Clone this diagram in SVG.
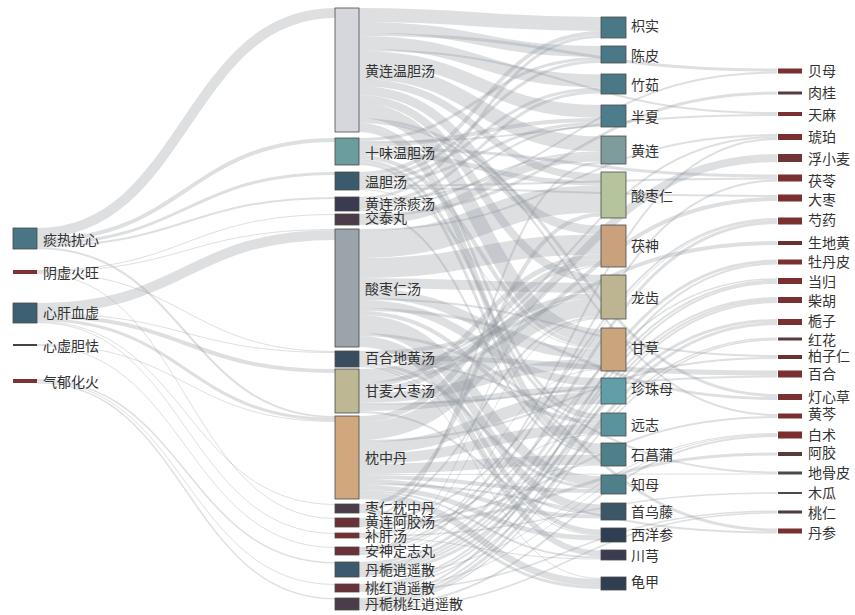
<svg xmlns="http://www.w3.org/2000/svg" width="855" height="615" viewBox="0 0 855 615">
<style>
.l{fill:none;stroke:#8e949c;stroke-opacity:.3}
.n{stroke:#4a4a4a;stroke-width:.8}
.b{stroke:none}
text{font-family:"Noto Sans CJK SC","Noto Sans",sans-serif;font-size:14px;fill:#333;dominant-baseline:central}
</style>
<rect width="855" height="615" fill="#fff"/>
<g id="links">
<path class="l" stroke-width="10" d="M37,233C186,233 186,13 335,13"/>
<path class="l" stroke-width="4" d="M37,240C186,240 186,140 335,140"/>
<path class="l" stroke-width="3" d="M37,243.5C186,243.5 186,173.5 335,173.5"/>
<path class="l" stroke-width="2" d="M37,246C186,246 186,198 335,198"/>
<path class="l" stroke-width="2" d="M37,248C186,248 186,417 335,417"/>
<path class="l" stroke-width="1" d="M37,270.5C186,270.5 186,214.5 335,214.5"/>
<path class="l" stroke-width="1" d="M37,271.5C186,271.5 186,229.5 335,229.5"/>
<path class="l" stroke-width="1" d="M37,272.5C186,272.5 186,351.5 335,351.5"/>
<path class="l" stroke-width="1" d="M37,273.5C186,273.5 186,518.5 335,518.5"/>
<path class="l" stroke-width="10" d="M37,308C186,308 186,235 335,235"/>
<path class="l" stroke-width="1" d="M37,313.5C186,313.5 186,352.5 335,352.5"/>
<path class="l" stroke-width="4" d="M37,316C186,316 186,371 335,371"/>
<path class="l" stroke-width="3" d="M37,319.5C186,319.5 186,419.5 335,419.5"/>
<path class="l" stroke-width="1" d="M37,321.5C186,321.5 186,504.5 335,504.5"/>
<path class="l" stroke-width="1" d="M37,322.5C186,322.5 186,533.5 335,533.5"/>
<path class="l" stroke-width="1" d="M37,344.5C186,344.5 186,421.5 335,421.5"/>
<path class="l" stroke-width="1" d="M37,345.5C186,345.5 186,547.5 335,547.5"/>
<path class="l" stroke-width="1.5" d="M37,379.75C186,379.75 186,562.75 335,562.75"/>
<path class="l" stroke-width="1" d="M37,381C186,381 186,584.5 335,584.5"/>
<path class="l" stroke-width="1.5" d="M37,382.75C186,382.75 186,598.75 335,598.75"/>

<path class="l" stroke-width="14" d="M359,15C480,15 480,24 601,24"/>
<path class="l" stroke-width="11" d="M359,27.5C480,27.5 480,51.5 601,51.5"/>
<path class="l" stroke-width="13" d="M359,42.5C480,42.5 480,81 601,81"/>
<path class="l" stroke-width="13" d="M359,57.5C480,57.5 480,111.5 601,111.5"/>
<path class="l" stroke-width="15" d="M359,71.5C480,71.5 480,144 601,144"/>
<path class="l" stroke-width="7" d="M359,82.5C480,82.5 480,177 601,177"/>
<path class="l" stroke-width="9" d="M359,90.5C480,90.5 480,230 601,230"/>
<path class="l" stroke-width="8" d="M359,99C480,99 480,279 601,279"/>
<path class="l" stroke-width="15" d="M359,110.5C480,110.5 480,336.5 601,336.5"/>
<path class="l" stroke-width="3" d="M359,124.5C480,124.5 480,415.5 601,415.5"/>
<path class="l" stroke-width="6" d="M359,129C480,129 480,446.5 601,446.5"/>
<path class="l" stroke-width="3" d="M359,34.5C568,34.5 568,70 777,70"/>
<path class="l" stroke-width="2" d="M359,50C568,50 568,113 777,113"/>
<path class="l" stroke-width="3" d="M359,119.5C568,119.5 568,395.5 777,395.5"/>
<path class="l" stroke-width="2" d="M359,122C568,122 568,415 777,415"/>

<path class="l" stroke-width="3" d="M359,139.5C480,139.5 480,58.5 601,58.5"/>
<path class="l" stroke-width="4" d="M359,145C480,145 480,120 601,120"/>
<path class="l" stroke-width="5" d="M359,152.5C480,152.5 480,183 601,183"/>
<path class="l" stroke-width="4" d="M359,157C480,157 480,346 601,346"/>
<path class="l" stroke-width="3" d="M359,160.5C480,160.5 480,418.5 601,418.5"/>
<path class="l" stroke-width="3" d="M359,163.5C480,163.5 480,451 601,451"/>
<path class="l" stroke-width="2" d="M359,142C568,142 568,115 777,115"/>
<path class="l" stroke-width="3" d="M359,148.5C568,148.5 568,176 777,176"/>

<path class="l" stroke-width="4" d="M359,174C480,174 480,33 601,33"/>
<path class="l" stroke-width="3" d="M359,177.5C480,177.5 480,61.5 601,61.5"/>
<path class="l" stroke-width="3" d="M359,180.5C480,180.5 480,89 601,89"/>
<path class="l" stroke-width="3" d="M359,183.5C480,183.5 480,123.5 601,123.5"/>
<path class="l" stroke-width="1" d="M359,189.5C480,189.5 480,348.5 601,348.5"/>
<path class="l" stroke-width="2" d="M359,186C568,186 568,178.5 777,178.5"/>
<path class="l" stroke-width="2" d="M359,188C568,188 568,196 777,196"/>

<path class="l" stroke-width="3" d="M359,198.5C480,198.5 480,36.5 601,36.5"/>
<path class="l" stroke-width="3" d="M359,203.5C480,203.5 480,92 601,92"/>
<path class="l" stroke-width="2" d="M359,206C480,206 480,126 601,126"/>
<path class="l" stroke-width="2" d="M359,208C480,208 480,152.5 601,152.5"/>
<path class="l" stroke-width="2" d="M359,210C480,210 480,453.5 601,453.5"/>
<path class="l" stroke-width="2" d="M359,201C568,201 568,72.5 777,72.5"/>

<path class="l" stroke-width="8" d="M359,221C480,221 480,157.5 601,157.5"/>
<path class="l" stroke-width="3" d="M359,215.5C568,215.5 568,93 777,93"/>

<path class="l" stroke-width="27" d="M359,244.5C480,244.5 480,199 601,199"/>
<path class="l" stroke-width="20" d="M359,268C480,268 480,244.5 601,244.5"/>
<path class="l" stroke-width="10" d="M359,283C480,283 480,288 601,288"/>
<path class="l" stroke-width="10" d="M359,293C480,293 480,354 601,354"/>
<path class="l" stroke-width="8" d="M359,304C480,304 480,382 601,382"/>
<path class="l" stroke-width="4" d="M359,313C480,313 480,422 601,422"/>
<path class="l" stroke-width="10" d="M359,320C480,320 480,481 601,481"/>
<path class="l" stroke-width="8" d="M359,329C480,329 480,508.5 601,508.5"/>
<path class="l" stroke-width="5" d="M359,338.5C480,338.5 480,532 601,532"/>
<path class="l" stroke-width="6" d="M359,344C480,344 480,553.5 601,553.5"/>
<path class="l" stroke-width="2" d="M359,230C568,230 568,135 777,135"/>
<path class="l" stroke-width="2" d="M359,299C568,299 568,356 777,356"/>
<path class="l" stroke-width="3" d="M359,309.5C568,309.5 568,398.5 777,398.5"/>
<path class="l" stroke-width="3" d="M359,334.5C568,334.5 568,530 777,530"/>

<path class="l" stroke-width="3" d="M359,363.5C480,363.5 480,487.5 601,487.5"/>
<path class="l" stroke-width="1" d="M359,365.5C480,365.5 480,535 601,535"/>
<path class="l" stroke-width="1" d="M359,366.5C480,366.5 480,578.5 601,578.5"/>
<path class="l" stroke-width="4" d="M359,353C568,353 568,243 777,243"/>
<path class="l" stroke-width="5" d="M359,357.5C568,357.5 568,373 777,373"/>
<path class="l" stroke-width="2" d="M359,361C568,361 568,472.5 777,472.5"/>

<path class="l" stroke-width="5" d="M359,385.5C480,385.5 480,257 601,257"/>
<path class="l" stroke-width="5" d="M359,390.5C480,390.5 480,295.5 601,295.5"/>
<path class="l" stroke-width="10" d="M359,398C480,398 480,364 601,364"/>
<path class="l" stroke-width="6" d="M359,408C480,408 480,389 601,389"/>
<path class="l" stroke-width="2" d="M359,412C480,412 480,513.5 601,513.5"/>
<path class="l" stroke-width="2" d="M359,370C568,370 568,137 777,137"/>
<path class="l" stroke-width="8" d="M359,375C568,375 568,158 777,158"/>
<path class="l" stroke-width="4" d="M359,381C568,381 568,199 777,199"/>
<path class="l" stroke-width="2" d="M359,404C568,404 568,376.5 777,376.5"/>

<path class="l" stroke-width="6" d="M359,419C480,419 480,262.5 601,262.5"/>
<path class="l" stroke-width="18" d="M359,431C480,431 480,307 601,307"/>
<path class="l" stroke-width="12" d="M359,448C480,448 480,398 601,398"/>
<path class="l" stroke-width="10" d="M359,459C480,459 480,429 601,429"/>
<path class="l" stroke-width="10" d="M359,469C480,469 480,459.5 601,459.5"/>
<path class="l" stroke-width="4" d="M359,477C480,477 480,491 601,491"/>
<path class="l" stroke-width="4" d="M359,481C480,481 480,516.5 601,516.5"/>
<path class="l" stroke-width="5" d="M359,487.5C480,487.5 480,538 601,538"/>
<path class="l" stroke-width="2" d="M359,491C480,491 480,557.5 601,557.5"/>
<path class="l" stroke-width="7" d="M359,495.5C480,495.5 480,582.5 601,582.5"/>
<path class="l" stroke-width="2" d="M359,441C568,441 568,358 777,358"/>
<path class="l" stroke-width="1" d="M359,474.5C568,474.5 568,474 777,474"/>
<path class="l" stroke-width="2" d="M359,484C568,484 568,532.5 777,532.5"/>

<path class="l" stroke-width="4" d="M359,506C480,506 480,214.5 601,214.5"/>
<path class="l" stroke-width="2" d="M359,509C480,509 480,317 601,317"/>
<path class="l" stroke-width="3" d="M359,511.5C480,511.5 480,587.5 601,587.5"/>

<path class="l" stroke-width="2" d="M359,519C480,519 480,162.5 601,162.5"/>
<path class="l" stroke-width="2" d="M359,521C568,521 568,219 777,219"/>
<path class="l" stroke-width="2" d="M359,523C568,523 568,417 777,417"/>
<path class="l" stroke-width="3" d="M359,525.5C568,525.5 568,454 777,454"/>

<path class="l" stroke-width="1" d="M359,537.5C480,537.5 480,559 601,559"/>
<path class="l" stroke-width="1" d="M359,533.5C568,533.5 568,220.5 777,220.5"/>
<path class="l" stroke-width="1.5" d="M359,534.75C568,534.75 568,279 777,279"/>
<path class="l" stroke-width="1.5" d="M359,536.25C568,536.25 568,493 777,493"/>

<path class="l" stroke-width="1" d="M359,551.5C480,551.5 480,266 601,266"/>
<path class="l" stroke-width="1" d="M359,552.5C480,552.5 480,318.5 601,318.5"/>
<path class="l" stroke-width="1" d="M359,553.5C480,553.5 480,434.5 601,434.5"/>
<path class="l" stroke-width="1" d="M359,554.5C480,554.5 480,465 601,465"/>
<path class="l" stroke-width="2" d="M359,548C568,548 568,139 777,139"/>
<path class="l" stroke-width="2" d="M359,550C568,550 568,180.5 777,180.5"/>

<path class="l" stroke-width="1" d="M359,575.5C480,575.5 480,369.5 601,369.5"/>
<path class="l" stroke-width="3" d="M359,563.5C568,563.5 568,222.5 777,222.5"/>
<path class="l" stroke-width="3" d="M359,566.5C568,566.5 568,261 777,261"/>
<path class="l" stroke-width="2" d="M359,569C568,569 568,280.75 777,280.75"/>
<path class="l" stroke-width="2" d="M359,571C568,571 568,298 777,298"/>
<path class="l" stroke-width="3" d="M359,573.5C568,573.5 568,320.5 777,320.5"/>
<path class="l" stroke-width="1" d="M359,576.5C568,576.5 568,433.5 777,433.5"/>

<path class="l" stroke-width="2" d="M359,585C568,585 568,282.75 777,282.75"/>
<path class="l" stroke-width="2" d="M359,587C568,587 568,300 777,300"/>
<path class="l" stroke-width="1.5" d="M359,588.75C568,588.75 568,338.25 777,338.25"/>
<path class="l" stroke-width="1" d="M359,590C568,590 568,434.5 777,434.5"/>
<path class="l" stroke-width="1.5" d="M359,591.25C568,591.25 568,511.25 777,511.25"/>

<path class="l" stroke-width="2" d="M359,599C568,599 568,263.5 777,263.5"/>
<path class="l" stroke-width="2" d="M359,601C568,601 568,302 777,302"/>
<path class="l" stroke-width="3" d="M359,603.5C568,603.5 568,323.5 777,323.5"/>
<path class="l" stroke-width="1.5" d="M359,605.75C568,605.75 568,339.75 777,339.75"/>
<path class="l" stroke-width="2" d="M359,607.5C568,607.5 568,436 777,436"/>
<path class="l" stroke-width="1.5" d="M359,609.25C568,609.25 568,512.75 777,512.75"/>
</g>

<g id="n-tanre"><rect class="n" x="13" y="228" width="24" height="21" fill="#4a7585"/><text x="43" y="239">痰热扰心</text></g>
<g id="n-yinxu"><rect class="b" x="13" y="270" width="24" height="4" fill="#7a3232"/><text x="43" y="272">阴虚火旺</text></g>
<g id="n-xingan"><rect class="n" x="13" y="303" width="24" height="20" fill="#3d6072"/><text x="43" y="312">心肝血虚</text></g>
<g id="n-xinxu"><rect class="b" x="13" y="344" width="24" height="2" fill="#444"/><text x="43" y="345">心虚胆怯</text></g>
<g id="n-qiyu"><rect class="b" x="13" y="379" width="24" height="4" fill="#7a3232"/><text x="43" y="381">气郁化火</text></g>

<g id="f1"><rect class="n" x="335" y="8" width="24" height="124" fill="#d5d7dd"/><text x="365" y="70">黄连温胆汤</text></g>
<g id="f2"><rect class="n" x="335" y="138" width="24" height="27" fill="#6b9c9e"/><text x="365" y="152">十味温胆汤</text></g>
<g id="f3"><rect class="n" x="335" y="172" width="24" height="18" fill="#3b5a6b"/><text x="365" y="181">温胆汤</text></g>
<g id="f4"><rect class="n" x="335" y="197" width="24" height="14" fill="#3a3b50"/><text x="365" y="203">黄连涤痰汤</text></g>
<g id="f5"><rect class="n" x="335" y="214" width="24" height="11" fill="#4a3c48"/><text x="365" y="217">交泰丸</text></g>
<g id="f6"><rect class="n" x="335" y="229" width="24" height="118" fill="#9ba3ab"/><text x="365" y="288">酸枣仁汤</text></g>
<g id="f7"><rect class="n" x="335" y="351" width="24" height="16" fill="#3a4d5e"/><text x="365" y="357">百合地黄汤</text></g>
<g id="f8"><rect class="n" x="335" y="369" width="24" height="44" fill="#bdb793"/><text x="365" y="390">甘麦大枣汤</text></g>
<g id="f9"><rect class="n" x="335" y="416" width="24" height="83" fill="#d1a77e"/><text x="365" y="457">枕中丹</text></g>
<g id="f10"><rect class="n" x="335" y="504" width="24" height="9" fill="#4a3c48"/><text x="365" y="507">枣仁枕中丹</text></g>
<g id="f11"><rect class="n" x="335" y="518" width="24" height="9" fill="#6b3038"/><text x="365" y="521">黄连阿胶汤</text></g>
<g id="f12"><rect class="n" x="335" y="533" width="24" height="5" fill="#7a2e2e"/><text x="365" y="535">补肝汤</text></g>
<g id="f13"><rect class="n" x="335" y="547" width="24" height="8" fill="#6b3038"/><text x="365" y="550">安神定志丸</text></g>
<g id="f14"><rect class="n" x="335" y="562" width="24" height="15" fill="#3b5a6b"/><text x="365" y="569">丹栀逍遥散</text></g>
<g id="f15"><rect class="n" x="335" y="584" width="24" height="8" fill="#6b3038"/><text x="365" y="587">桃红逍遥散</text></g>
<g id="f16"><rect class="n" x="335" y="598" width="24" height="12" fill="#4a3c48"/><text x="365" y="603">丹栀桃红逍遥散</text></g>

<g id="h1"><rect class="n" x="601" y="17" width="25" height="21" fill="#4b7886"/><text x="631" y="25">枳实</text></g>
<g id="h2"><rect class="n" x="601" y="46" width="25" height="17" fill="#4b7886"/><text x="631" y="55">陈皮</text></g>
<g id="h3"><rect class="n" x="601" y="74" width="25" height="20" fill="#4b7886"/><text x="631" y="84">竹茹</text></g>
<g id="h4"><rect class="n" x="601" y="105" width="25" height="22" fill="#4d7d8a"/><text x="631" y="116">半夏</text></g>
<g id="h5"><rect class="n" x="601" y="136" width="25" height="28" fill="#7f9c9c"/><text x="631" y="150">黄连</text></g>
<g id="h6"><rect class="n" x="601" y="172" width="25" height="46" fill="#b6c49e"/><text x="631" y="195">酸枣仁</text></g>
<g id="h7"><rect class="n" x="601" y="225" width="25" height="42" fill="#c9a17c"/><text x="631" y="245">茯神</text></g>
<g id="h8"><rect class="n" x="601" y="275" width="25" height="44" fill="#bdb592"/><text x="631" y="297">龙齿</text></g>
<g id="h9"><rect class="n" x="601" y="328" width="25" height="43" fill="#caa47d"/><text x="631" y="347">甘草</text></g>
<g id="h10"><rect class="n" x="601" y="378" width="25" height="26" fill="#609fa8"/><text x="631" y="388">珍珠母</text></g>
<g id="h11"><rect class="n" x="601" y="413" width="25" height="23" fill="#5a939b"/><text x="631" y="424">远志</text></g>
<g id="h12"><rect class="n" x="601" y="443" width="25" height="23" fill="#4f7f88"/><text x="631" y="454">石菖蒲</text></g>
<g id="h13"><rect class="n" x="601" y="475" width="25" height="19" fill="#4f7f88"/><text x="631" y="484">知母</text></g>
<g id="h14"><rect class="n" x="601" y="503" width="25" height="17" fill="#3c5668"/><text x="631" y="511">首乌藤</text></g>
<g id="h15"><rect class="n" x="601" y="528" width="25" height="14" fill="#2f3e50"/><text x="631" y="534">西洋参</text></g>
<g id="h16"><rect class="n" x="601" y="550" width="25" height="10" fill="#3b3b52"/><text x="631" y="555">川芎</text></g>
<g id="h17"><rect class="n" x="601" y="577" width="25" height="13" fill="#2f3e50"/><text x="631" y="581">龟甲</text></g>

<g id="r1"><rect class="b" x="778" y="68.5" width="24" height="5" fill="#7a3030"/><text x="808" y="70">贝母</text></g>
<g id="r2"><rect class="b" x="778" y="91.5" width="24" height="3" fill="#5a3a3a"/><text x="808" y="92">肉桂</text></g>
<g id="r3"><rect class="b" x="778" y="112" width="24" height="4" fill="#7a3030"/><text x="808" y="114">天麻</text></g>
<g id="r4"><rect class="b" x="778" y="134" width="24" height="6" fill="#7a3030"/><text x="808" y="136">琥珀</text></g>
<g id="r5"><rect class="b" x="778" y="154" width="24" height="8" fill="#6e3438"/><text x="808" y="158">浮小麦</text></g>
<g id="r6"><rect class="b" x="778" y="174.5" width="24" height="7" fill="#7a3030"/><text x="808" y="180">茯苓</text></g>
<g id="r7"><rect class="b" x="778" y="194.5" width="24" height="7" fill="#7a3030"/><text x="808" y="199">大枣</text></g>
<g id="r8"><rect class="b" x="778" y="217.5" width="24" height="7" fill="#7a3030"/><text x="808" y="219">芍药</text></g>
<g id="r9"><rect class="b" x="778" y="241" width="24" height="4" fill="#6a3030"/><text x="808" y="242">生地黄</text></g>
<g id="r10"><rect class="b" x="778" y="259.5" width="24" height="5" fill="#7a3030"/><text x="808" y="261">牡丹皮</text></g>
<g id="r11"><rect class="b" x="778" y="278" width="24" height="6" fill="#7a3030"/><text x="808" y="281">当归</text></g>
<g id="r12"><rect class="b" x="778" y="297" width="24" height="6" fill="#7a3030"/><text x="808" y="300">柴胡</text></g>
<g id="r13"><rect class="b" x="778" y="319" width="24" height="6" fill="#7a3030"/><text x="808" y="320">栀子</text></g>
<g id="r14"><rect class="b" x="778" y="337.5" width="24" height="3" fill="#5a3a3a"/><text x="808" y="339">红花</text></g>
<g id="r15"><rect class="b" x="778" y="355" width="24" height="4" fill="#6a3030"/><text x="808" y="355">柏子仁</text></g>
<g id="r16"><rect class="b" x="778" y="370.5" width="24" height="7" fill="#7a3030"/><text x="808" y="373">百合</text></g>
<g id="r17"><rect class="b" x="778" y="394" width="24" height="6" fill="#7a3030"/><text x="808" y="396">灯心草</text></g>
<g id="r18"><rect class="b" x="778" y="413.5" width="24" height="5" fill="#7a3030"/><text x="808" y="413">黄芩</text></g>
<g id="r19"><rect class="b" x="778" y="431.5" width="24" height="7" fill="#7a3030"/><text x="808" y="434">白术</text></g>
<g id="r20"><rect class="b" x="778" y="452" width="24" height="4" fill="#5a3a3a"/><text x="808" y="452">阿胶</text></g>
<g id="r21"><rect class="b" x="778" y="471.5" width="24" height="3" fill="#4a4a4a"/><text x="808" y="472">地骨皮</text></g>
<g id="r22"><rect class="b" x="778" y="492" width="24" height="2" fill="#4a4a4a"/><text x="808" y="492">木瓜</text></g>
<g id="r23"><rect class="b" x="778" y="510.5" width="24" height="3" fill="#4a3c42"/><text x="808" y="512">桃仁</text></g>
<g id="r24"><rect class="b" x="778" y="528.5" width="24" height="5" fill="#7a3030"/><text x="808" y="532">丹参</text></g>
</svg>
